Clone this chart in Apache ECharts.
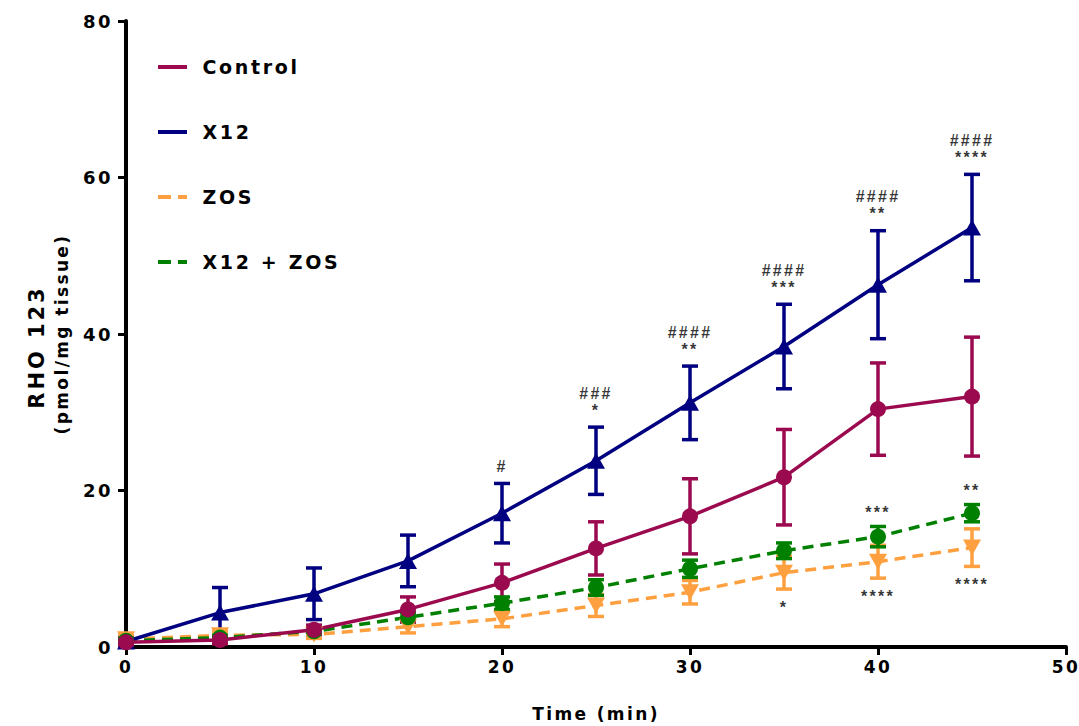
<!DOCTYPE html>
<html>
<head>
<meta charset="utf-8">
<script src="https://cdn.jsdelivr.net/npm/echarts@6/dist/echarts.min.js"></script>
<style>
  html, body { margin: 0; padding: 0; background: #ffffff; }
  #chart { width: 1079px; height: 726px; }
  /* wide tracking on every label, as in the printed figure */
  #chart text { letter-spacing: 0.14em; }
</style>
</head>
<body>
<div id="chart"></div>
<script>
// Sampling times (min)
const times = [0, 5, 10, 15, 20, 25, 30, 35, 40, 45];

// RHO 123 accumulation (pmol/mg tissue), mean and SEM per group
const controlMean = [0.6, 0.9, 2.2, 4.8, 8.2, 12.6, 16.7, 21.7, 30.4, 32.0];
const controlErr  = [0.4, 0.5, 0.6, 1.6, 2.4, 3.4, 4.8, 6.1, 5.9, 7.6];
const x12Mean     = [0.7, 4.4, 6.8, 11.0, 17.1, 23.8, 31.2, 38.4, 46.3, 53.6];
const x12Err      = [0.4, 3.2, 3.3, 3.3, 3.8, 4.3, 4.7, 5.4, 6.9, 6.8];
const zosMean     = [1.0, 1.5, 1.6, 2.6, 3.6, 5.3, 7.0, 9.5, 10.9, 12.7];
const zosErr      = [0.5, 0.5, 0.5, 0.8, 1.0, 1.4, 1.5, 2.1, 2.1, 2.4];
const comboMean   = [0.8, 1.2, 2.0, 3.8, 5.6, 7.6, 10.0, 12.3, 14.1, 17.1];
const comboErr    = [0.3, 0.3, 0.4, 0.6, 0.8, 1.0, 1.1, 1.0, 1.3, 1.1];

// Significance marks per time point
const x12Marks   = ['', '', '', '', '#', '###\n*', '####\n**', '####\n***', '####\n**', '####\n****'];
const zosMarks   = ['', '', '', '', '', '', '', '*', '****', '****'];
const comboMarks = ['', '', '', '', '', '', '', '', '***', '**'];

// Axis ticks
const xTicks = { min: 0, max: 50, step: 10 };
const yTicks = { min: 0, max: 80, step: 20 };

const FONT = '"DejaVu Sans", Verdana, sans-serif';
const MARK_FONT = '"Liberation Sans", Arial, Helvetica, sans-serif';
const COLORS = {
  control: '#9b0a4f',
  x12: '#000080',
  zos: '#ffa040',
  combo: '#008000'
};

const solidIcon  = 'path://M0,0h29v4h-29z';
const dashedIcon = 'path://M0,0h13v4h-13zM20,0h9v4h-9z';

function pairs(means) {
  return times.map((t, i) => [t, means[i]]);
}

function errorBars(name, means, errs, color) {
  return {
    type: 'custom',
    name: name + ' SEM',
    silent: true,
    data: times.map((t, i) => [t, means[i], errs[i]]),
    encode: { x: 0, y: 1 },
    renderItem: function (params, api) {
      const x = api.value(0), m = api.value(1), e = api.value(2);
      const hi = api.coord([x, m + e]);
      const lo = api.coord([x, m - e]);
      const w = 8;
      const style = { stroke: color, lineWidth: 3.5, fill: null };
      return {
        type: 'group',
        children: [
          { type: 'line', shape: { x1: hi[0], y1: hi[1], x2: lo[0], y2: lo[1] }, style: style },
          { type: 'line', shape: { x1: hi[0] - w, y1: hi[1], x2: hi[0] + w, y2: hi[1] }, style: style },
          { type: 'line', shape: { x1: lo[0] - w, y1: lo[1], x2: lo[0] + w, y2: lo[1] }, style: style }
        ]
      };
    }
  };
}

function meanLine(name, means, color, symbol, size, rotate, dashed) {
  return {
    type: 'line',
    name: name,
    data: pairs(means),
    symbol: symbol,
    symbolSize: size,
    symbolRotate: rotate,
    showSymbol: true,
    showAllSymbol: true,
    lineStyle: { color: color, width: 3.5, type: dashed ? [11, 7] : 'solid' },
    itemStyle: { color: color },
    emphasis: { disabled: true }
  };
}

// Significance labels anchored at the end of an error bar
function marks(name, means, errs, texts, side, distance) {
  const data = [];
  times.forEach((t, i) => {
    if (!texts[i]) return;
    const y = side === 'top' ? means[i] + errs[i] : means[i] - errs[i];
    data.push({ value: [t, y], label: { formatter: texts[i] } });
  });
  return {
    type: 'scatter',
    name: name,
    silent: true,
    symbolSize: 1,
    itemStyle: { color: 'rgba(0,0,0,0)' },
    data: data,
    label: {
      show: true,
      position: side,
      distance: distance,
      color: '#000',
      fontFamily: MARK_FONT,
      fontSize: 16,
      fontWeight: 'bold',
      lineHeight: 17,
      align: 'center'
    },
    z: 10
  };
}

const axisCommon = {
  type: 'value',
  axisLine: { show: true, onZero: false, lineStyle: { color: '#000', width: 4 } },
  axisTick: { show: true, inside: false, length: 8, lineStyle: { color: '#000', width: 3 } },
  splitLine: { show: false }
};

const chart = echarts.init(document.getElementById('chart'), null, { renderer: 'svg' });

chart.setOption({
  animation: false,
  backgroundColor: '#ffffff',
  grid: { left: 126, right: 13, top: 21, bottom: 79, containLabel: false, outerBoundsMode: 'none' },
  legend: {
    orient: 'vertical',
    left: 153,
    top: 52,
    itemGap: 45,
    itemWidth: 30,
    itemHeight: 4,
    selectedMode: false,
    data: [
      { name: 'Control', icon: solidIcon },
      { name: 'X12', icon: solidIcon },
      { name: 'ZOS', icon: dashedIcon },
      { name: 'X12 + ZOS', icon: dashedIcon }
    ],
    textStyle: { color: '#000', fontFamily: FONT, fontSize: 19, fontWeight: 'bold', lineHeight: 20, padding: [0, 0, 0, 10] }
  },
  xAxis: Object.assign({}, axisCommon, {
    min: xTicks.min,
    max: xTicks.max,
    interval: xTicks.step,
    name: 'Time (min)',
    nameLocation: 'middle',
    nameGap: 58,
    nameTextStyle: { color: '#000', fontFamily: FONT, fontWeight: 'bold', fontSize: 17 },
    axisLabel: { color: '#000', fontFamily: FONT, fontWeight: 'bold', fontSize: 17, margin: 11, showMinLabel: true, showMaxLabel: true }
  }),
  yAxis: Object.assign({}, axisCommon, {
    min: yTicks.min,
    max: yTicks.max,
    interval: yTicks.step,
    name: '{a|RHO 123}\n{b|(pmol/mg tissue)}',
    nameLocation: 'middle',
    nameRotate: 90,
    nameGap: 52,
    nameTextStyle: {
      color: '#000',
      rich: {
        a: { fontFamily: FONT, fontWeight: 'bold', fontSize: 21, lineHeight: 26, color: '#000', padding: [0, 26, 0, 0] },
        b: { fontFamily: FONT, fontWeight: 'bold', fontSize: 17, lineHeight: 24, color: '#000' }
      }
    },
    axisLabel: { color: '#000', fontFamily: FONT, fontWeight: 'bold', fontSize: 18, margin: 13, showMinLabel: true, showMaxLabel: true }
  }),
  series: [
    errorBars('ZOS', zosMean, zosErr, COLORS.zos),
    meanLine('ZOS', zosMean, COLORS.zos, 'triangle', [18, 16], 180, true),
    errorBars('X12 + ZOS', comboMean, comboErr, COLORS.combo),
    meanLine('X12 + ZOS', comboMean, COLORS.combo, 'circle', 16, 0, true),
    errorBars('X12', x12Mean, x12Err, COLORS.x12),
    meanLine('X12', x12Mean, COLORS.x12, 'triangle', [18, 16], 0, false),
    errorBars('Control', controlMean, controlErr, COLORS.control),
    meanLine('Control', controlMean, COLORS.control, 'circle', 16, 0, false),
    marks('X12 marks', x12Mean, x12Err, x12Marks, 'top', 8),
    marks('ZOS marks', zosMean, zosErr, zosMarks, 'bottom', 9),
    marks('X12 + ZOS marks', comboMean, comboErr, comboMarks, 'top', 5)
  ]
});
</script>
</body>
</html>
